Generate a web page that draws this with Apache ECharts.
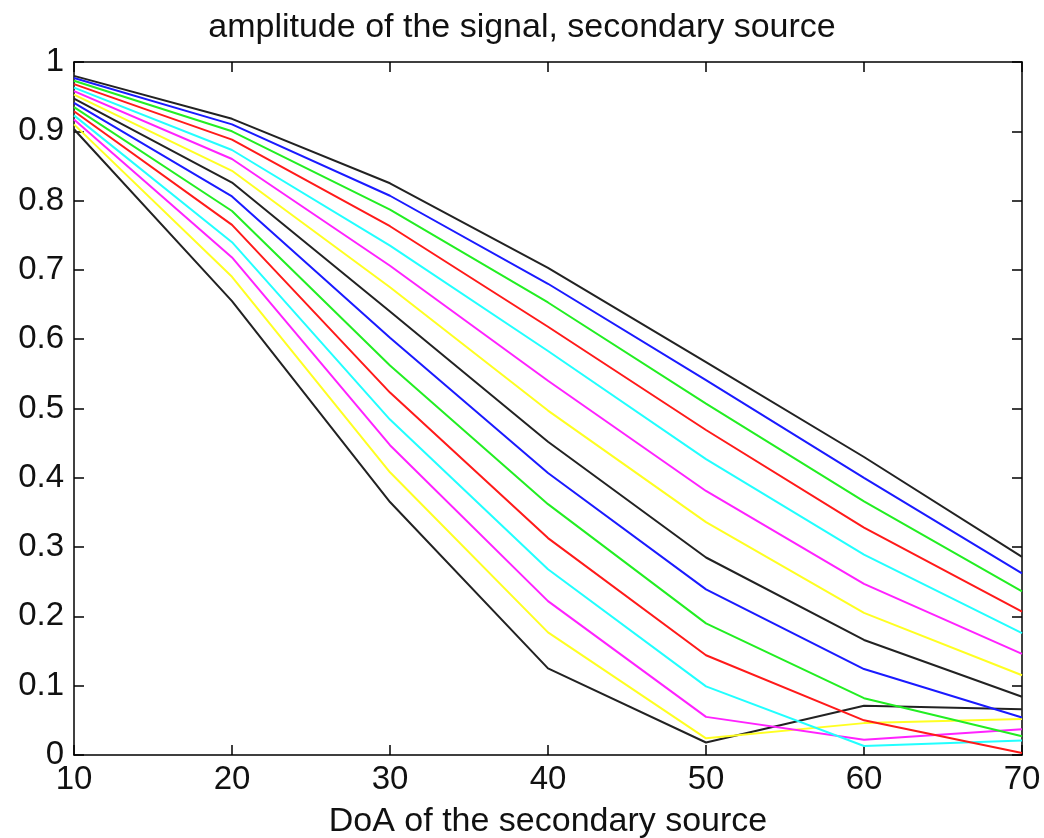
<!DOCTYPE html>
<html>
<head>
<meta charset="utf-8">
<script src="https://cdn.jsdelivr.net/npm/echarts@6/dist/echarts.min.js"></script>
<style>html,body{margin:0;padding:0;background:#fff}#c{width:1044px;height:838px}</style>
</head>
<body>
<div id="c"></div>
<script>
const doa = [10, 20, 30, 40, 50, 60, 70];
const xTicks = [10, 20, 30, 40, 50, 60, 70];
const yTicks = [0, 0.1, 0.2, 0.3, 0.4, 0.5, 0.6, 0.7, 0.8, 0.9, 1];
const colorCycle = ['#222222', '#1a1aff', '#22ee22', '#ff1a1a', '#22ffff', '#ff22ff', '#ffff22'];

const line01 = [0.980, 0.918, 0.825, 0.703, 0.567, 0.430, 0.286];
const line02 = [0.977, 0.910, 0.807, 0.680, 0.541, 0.400, 0.262];
const line03 = [0.973, 0.900, 0.787, 0.653, 0.507, 0.366, 0.236];
const line04 = [0.968, 0.888, 0.763, 0.618, 0.469, 0.328, 0.207];
const line05 = [0.963, 0.873, 0.735, 0.583, 0.427, 0.289, 0.176];
const line06 = [0.958, 0.860, 0.706, 0.540, 0.381, 0.247, 0.146];
const line07 = [0.953, 0.843, 0.675, 0.497, 0.336, 0.205, 0.115];
const line08 = [0.947, 0.826, 0.640, 0.452, 0.285, 0.166, 0.084];
const line09 = [0.941, 0.806, 0.602, 0.407, 0.239, 0.124, 0.054];
const line10 = [0.935, 0.785, 0.562, 0.362, 0.190, 0.082, 0.027];
const line11 = [0.929, 0.765, 0.523, 0.313, 0.144, 0.050, 0.003];
const line12 = [0.923, 0.740, 0.484, 0.268, 0.099, 0.013, 0.021];
const line13 = [0.917, 0.718, 0.447, 0.222, 0.055, 0.022, 0.037];
const line14 = [0.910, 0.690, 0.408, 0.177, 0.024, 0.046, 0.052];
const line15 = [0.903, 0.655, 0.365, 0.125, 0.018, 0.071, 0.066];

const lines = [line01, line02, line03, line04, line05, line06, line07, line08,
               line09, line10, line11, line12, line13, line14, line15];

const font = 'Liberation Sans, Arial, sans-serif';
const chart = echarts.init(document.getElementById('c'), null, {renderer: 'canvas'});

const series = lines.map((vals, i) => ({
  type: 'line',
  xAxisIndex: 0,
  yAxisIndex: 0,
  data: vals.map((v, j) => [doa[j], v]),
  showSymbol: false,
  symbol: 'none',
  lineStyle: {color: colorCycle[i % 7], width: 2},
  itemStyle: {color: colorCycle[i % 7]},
  animation: false,
  z: 2 + (lines.length - i)
}));

const axisCommon = {
  axisLine: {show: true, onZero: false, lineStyle: {color: '#000', width: 1.5}},
  axisTick: {show: true, inside: true, length: 10, lineStyle: {color: '#000', width: 1.5}},
  splitLine: {show: false}
};

chart.setOption({
  backgroundColor: '#fff',
  animation: false,
  title: {
    text: 'amplitude of the signal, secondary source',
    left: 'center',
    top: 6,
    textStyle: {fontFamily: font, fontSize: 34, fontWeight: 'normal', color: '#111'}
  },
  grid: {left: 74, right: 22, top: 62, bottom: 83, containLabel: false, outerBoundsMode: 'none'},
  xAxis: [
    Object.assign({
      type: 'value', min: xTicks[0], max: xTicks[xTicks.length - 1], interval: 10,
      position: 'bottom',
      name: 'DoA of the secondary source', nameLocation: 'middle', nameGap: 50,
      nameTextStyle: {fontFamily: font, fontSize: 34, color: '#111'},
      axisLabel: {fontFamily: font, fontSize: 33, color: '#111', margin: 8}
    }, axisCommon),
    Object.assign({
      type: 'value', min: xTicks[0], max: xTicks[xTicks.length - 1], interval: 10,
      position: 'top', axisLabel: {show: false}
    }, axisCommon)
  ],
  yAxis: [
    Object.assign({
      type: 'value', min: yTicks[0], max: yTicks[yTicks.length - 1], interval: 0.1,
      position: 'left',
      axisLabel: {fontFamily: font, fontSize: 33, color: '#111', margin: 10,
        formatter: v => String(Math.round(v * 10) / 10)}
    }, axisCommon),
    Object.assign({
      type: 'value', min: yTicks[0], max: yTicks[yTicks.length - 1], interval: 0.1,
      position: 'right', axisLabel: {show: false}
    }, axisCommon)
  ],
  series: series
});
</script>
</body>
</html>
